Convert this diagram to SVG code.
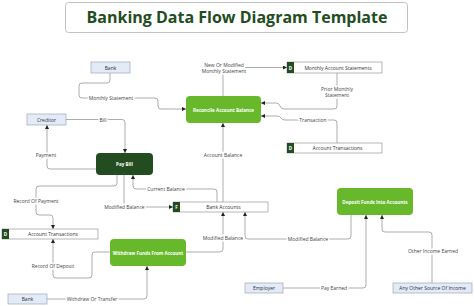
<svg xmlns="http://www.w3.org/2000/svg" width="474" height="306" viewBox="0 0 474 306">
<defs>
<marker id="ah" viewBox="0 0 6 6" refX="6" refY="3" markerWidth="4" markerHeight="4" markerUnits="userSpaceOnUse" orient="auto"><path d="M0,0 L6,3 L0,6 Z" fill="#222"/></marker>
<style>
.ln{fill:none;stroke:#8a8a8a;stroke-width:0.7;marker-end:url(#ah)}
.lbl{font-family:"Open Sans","Liberation Sans",sans-serif;font-size:5px;fill:#444;text-anchor:middle;dominant-baseline:central;stroke:#fff;stroke-width:3px;paint-order:stroke}
.ext rect{fill:#e4ebf8;stroke:#9ea6b6;stroke-width:0.7}
.ext text{font-family:"Open Sans","Liberation Sans",sans-serif;font-size:5px;fill:#333;text-anchor:middle;dominant-baseline:central}
.proc rect{fill:#67b82b}
.proc text,.dark text{font-family:"Open Sans","Liberation Sans",sans-serif;font-size:4.6px;font-weight:bold;fill:#fff;text-anchor:middle;dominant-baseline:central}
.dark rect{fill:#234d20}
.store rect.b{fill:#fff;stroke:#999;stroke-width:0.7}
.store rect.s{fill:#234d20}
.store text{font-family:"Open Sans","Liberation Sans",sans-serif;font-size:5px;fill:#333;text-anchor:middle;dominant-baseline:central}
.store text.k{fill:#fff;font-size:4.5px;font-weight:bold}
</style>
</defs>
<rect width="474" height="306" fill="#fff"/>
<g id="title">
<rect x="65.5" y="2.5" width="342" height="30" rx="3" fill="#fff" stroke="#c2c2c2" stroke-width="1"/>
<text x="237" y="17" font-family="'Open Sans','Liberation Sans',sans-serif" font-size="16" font-weight="bold" fill="#234d20" text-anchor="middle" dominant-baseline="central">Banking Data Flow Diagram Template</text>
</g>
<g id="connectors">
<path class="ln" d="M110,73 V80 Q110,83 107,83 H82 Q79,83 79,86 V95 Q79,98 82,98 H155 Q158,98 158,101 V106 Q158,109 161,109 H186"/>
<path class="ln" d="M66,119.5 H122 Q125,119.5 125,122.5 V153"/>
<path class="ln" d="M96,169 H50 Q47,169 47,166 V125"/>
<path class="ln" d="M223,202 V123"/>
<path class="ln" d="M217,202 V192 Q217,189 214,189 H136 Q133,189 133,186 V175"/>
<path class="ln" d="M124,175 V204 Q124,207 127,207 H173"/>
<path class="ln" d="M117,175 V183 Q117,186 114,186 H39 Q36,186 36,189 V212 Q36,215 39,215 H50 Q53,215 53,218 V229"/>
<path class="ln" d="M110,252 H95 Q92,252 92,255 V275 Q92,278 89,278 H56 Q53,278 53,275 V239"/>
<path class="ln" d="M47,299 H144 Q147,299 147,296 V266"/>
<path class="ln" d="M186,252 H220 Q223,252 223,249 V212"/>
<path class="ln" d="M351,215 V236 Q351,239 348,239 H248 Q245,239 245,236 V212"/>
<path class="ln" d="M283,288 H363 Q366,288 366,285 V215"/>
<path class="ln" d="M432,283 V235 Q432,232 429,232 H385 Q382,232 382,229 V215"/>
<path class="ln" d="M223,96 V70.5 Q223,67.5 226,67.5 H287"/>
<path class="ln" d="M337,73 V106 Q337,109 334,109 H284 Q281,109 280,106 Q279,103 276,103 H261"/>
<path class="ln" d="M337,143 V123 Q337,120 334,120 H285 Q282,120 281,118 Q280,116 277,116 H261"/>
<text class="lbl" x="111" y="98">Monthly Statement</text>
<text class="lbl" x="103" y="119.5">Bill</text>
<text class="lbl" x="46" y="155">Payment</text>
<text class="lbl" x="223" y="155">Account Balance</text>
<text class="lbl" x="166" y="189">Current Balance</text>
<text class="lbl" x="124.5" y="207">Modified Balance</text>
<text class="lbl" x="36" y="201">Record Of Payment</text>
<text class="lbl" x="53" y="266">Record Of Deposit</text>
<text class="lbl" x="92" y="299">Withdraw Or Transfer</text>
<text class="lbl" x="223" y="238">Modified Balance</text>
<text class="lbl" x="308" y="239">Modified Balance</text>
<text class="lbl" x="334" y="288">Pay Earned</text>
<text class="lbl" x="433" y="251">Other Income Earned</text>
<text class="lbl" x="224" y="64.5">New Or Modified</text>
<text class="lbl" x="224" y="70.5">Monthly Statement</text>
<text class="lbl" x="337" y="89">Prior Monthly</text>
<text class="lbl" x="337" y="94.5">Statement</text>
<text class="lbl" x="313" y="120">Transaction</text>
</g>
<g id="bank-top" class="ext"><rect x="91" y="62" width="39" height="11"/><text x="110.5" y="67.5">Bank</text></g>
<g id="creditor" class="ext"><rect x="27" y="114" width="39" height="11"/><text x="46.5" y="119.5">Creditor</text></g>
<g id="bank-bottom" class="ext"><rect x="8" y="294" width="39" height="10"/><text x="27.5" y="299">Bank</text></g>
<g id="employer" class="ext"><rect x="245" y="283" width="38" height="10"/><text x="264" y="288">Employer</text></g>
<g id="other-income" class="ext"><rect x="393" y="283" width="79" height="10"/><text x="432.5" y="288">Any Other Source Of Income</text></g>
<g id="reconcile" class="proc"><rect x="186" y="96" width="75" height="27" rx="4"/><text x="223.5" y="109.5">Reconcile Account Balance</text></g>
<g id="pay-bill" class="dark"><rect x="96" y="153" width="57" height="22" rx="4"/><text x="124.5" y="164">Pay Bill</text></g>
<g id="withdraw" class="proc"><rect x="110" y="239" width="76" height="27" rx="4"/><text x="148" y="252.5">Withdraw Funds From Account</text></g>
<g id="deposit" class="proc"><rect x="337" y="188" width="76" height="27" rx="4"/><text x="375" y="201.5">Deposit Funds Into Accounts</text></g>
<g id="monthly-statements" class="store"><rect class="b" x="287" y="62" width="95" height="11"/><rect class="s" x="287" y="62" width="7" height="11"/><text class="k" x="290.5" y="67.5">D</text><text x="338" y="67.5">Monthly Account Statements</text></g>
<g id="account-transactions-right" class="store"><rect class="b" x="287" y="143" width="95" height="10"/><rect class="s" x="287" y="143" width="7" height="10"/><text class="k" x="290.5" y="148">D</text><text x="337.5" y="148">Account Transactions</text></g>
<g id="bank-accounts" class="store"><rect class="b" x="173" y="202" width="95" height="10"/><rect class="s" x="173" y="202" width="7" height="10"/><text class="k" x="176.5" y="207">F</text><text x="223.5" y="207">Bank Accounts</text></g>
<g id="account-transactions-left" class="store"><rect class="b" x="2" y="229" width="96" height="10"/><rect class="s" x="2" y="229" width="7" height="10"/><text class="k" x="5.5" y="234">D</text><text x="53" y="234">Account Transactions</text></g>
</svg>
